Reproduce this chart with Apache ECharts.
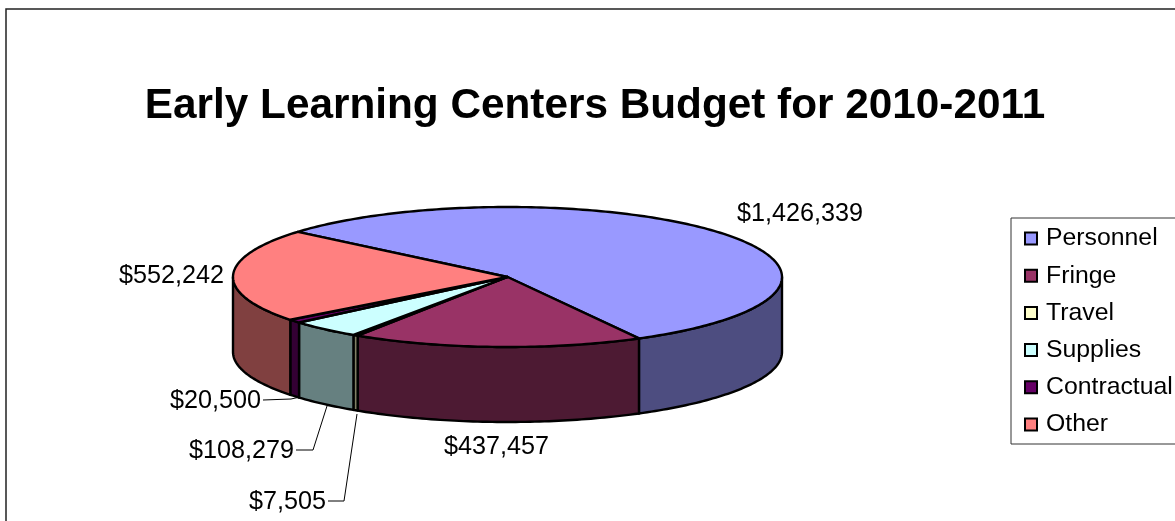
<!DOCTYPE html>
<html><head><meta charset="utf-8">
<style>html,body{margin:0;padding:0;background:#fff;overflow:hidden}#c{width:1175px;height:521px}</style>
<script src="https://cdn.jsdelivr.net/npm/echarts@6/dist/echarts.min.js"></script>
</head><body><div id="c"></div>
<script>
const categories = ['Personnel','Fringe','Travel','Supplies','Contractual','Other'];
const budget = [1426339,437457,7505,108279,20500,552242];
const topColors = ['#9999FF','#993366','#FFFFCC','#CCFFFF','#660066','#FF8080'];
const wallColors = ['#4D4D80','#4D1A33','#808066','#668080','#330033','#804040'];

const FONT = '"Liberation Sans", Arial, sans-serif';
const pie = {cx:507.5, cy:277, rx:274.5, ry:70, depth:75, start:-49.8};
// label placement: anchor [x, y], alignment, leader-line points
const labelLayout = [
  {at:[737,214], align:'left', leader:null},
  {at:[444,447], align:'left', leader:null},
  {at:[326,502], align:'right', leader:[[328,501],[344,501],[357,414]]},
  {at:[294,451], align:'right', leader:[[296,450],[313,450],[327,406]]},
  {at:[261,401], align:'right', leader:[[263,400],[291,399],[300,397]]},
  {at:[224,276], align:'right', leader:null}
];

const total = budget.reduce((a,b)=>a+b,0);
function pt(deg, dy){
  const r = deg*Math.PI/180;
  return [pie.cx + pie.rx*Math.sin(r), pie.cy - pie.ry*Math.cos(r) + (dy||0)];
}
function money(v){ return '$' + v.toString().replace(/\B(?=(\d{3})+$)/g, ','); }
function arc(a0, a1, dy){
  const pts = [], n = Math.max(2, Math.ceil(Math.abs(a1-a0)));
  for(let i=0;i<=n;i++) pts.push(pt(a0+(a1-a0)*i/n, dy));
  return pts;
}
function makeRender(idx){
  return function(params, api){
    const v = api.value(0);
    let before = 0;
    for(let i=0;i<idx;i++) before += budget[i];
    const a0 = pie.start + before/total*360, a1 = a0 + v/total*360;
    const children = [];
    const stroke = {stroke:'#000', lineWidth:2.4, lineJoin:'round'};
    for(const off of [0,360,-360]){
      const w0 = Math.max(a0+off, 90), w1 = Math.min(a1+off, 270);
      if(w1 > w0){
        const pts = arc(w0,w1,0).concat(arc(w1,w0,pie.depth));
        children.push({type:'polygon', shape:{points:pts}, style:Object.assign({fill:wallColors[idx]},stroke)});
      }
    }
    const top = [[pie.cx,pie.cy]].concat(arc(a0,a1,0));
    children.push({type:'polygon', shape:{points:top}, style:Object.assign({fill:topColors[idx]},stroke), z2:5});
    const L = labelLayout[idx];
    if(L.leader) children.push({type:'polyline', shape:{points:L.leader}, style:{stroke:'#000', lineWidth:1, fill:null}, z2:6});
    children.push({type:'text', x:L.at[0], y:L.at[1], z2:7, style:{text:money(v), fill:'#000', font:'25.2px '+FONT, align:L.align, verticalAlign:'middle'}});
    return {type:'group', children};
  };
}
const chart = echarts.init(document.getElementById('c'), null, {renderer:'canvas'});
chart.setOption({
  animation:false,
  backgroundColor:'#fff',
  title:{text:'Early Learning Centers Budget for 2010-2011', left:590, top:80, textAlign:'center',
    textStyle:{fontFamily:FONT, fontWeight:'bold', fontSize:42.3, color:'#000'}},
  legend:{orient:'vertical', left:1011, top:218, padding:[8,30,7,13], itemGap:12.2, itemWidth:12, itemHeight:12,
    borderColor:'#333', borderWidth:1, backgroundColor:'#fff', icon:'rect', selectedMode:false,
    itemStyle:{borderColor:'#000', borderWidth:2},
    textStyle:{fontFamily:FONT, fontSize:24.8, color:'#000', padding:[0,0,0,4]},
    data:categories},
  graphic:[{type:'rect', shape:{x:6,y:9,width:1300,height:700}, style:{fill:'none',stroke:'#222',lineWidth:1.5}, silent:true, z:-1}],
  series:categories.map((name,i)=>({
    type:'custom', name, coordinateSystem:'none', silent:true,
    itemStyle:{color:topColors[i]},
    data:[[budget[i]]],
    renderItem:makeRender(i)
  }))
});
</script></body></html>
